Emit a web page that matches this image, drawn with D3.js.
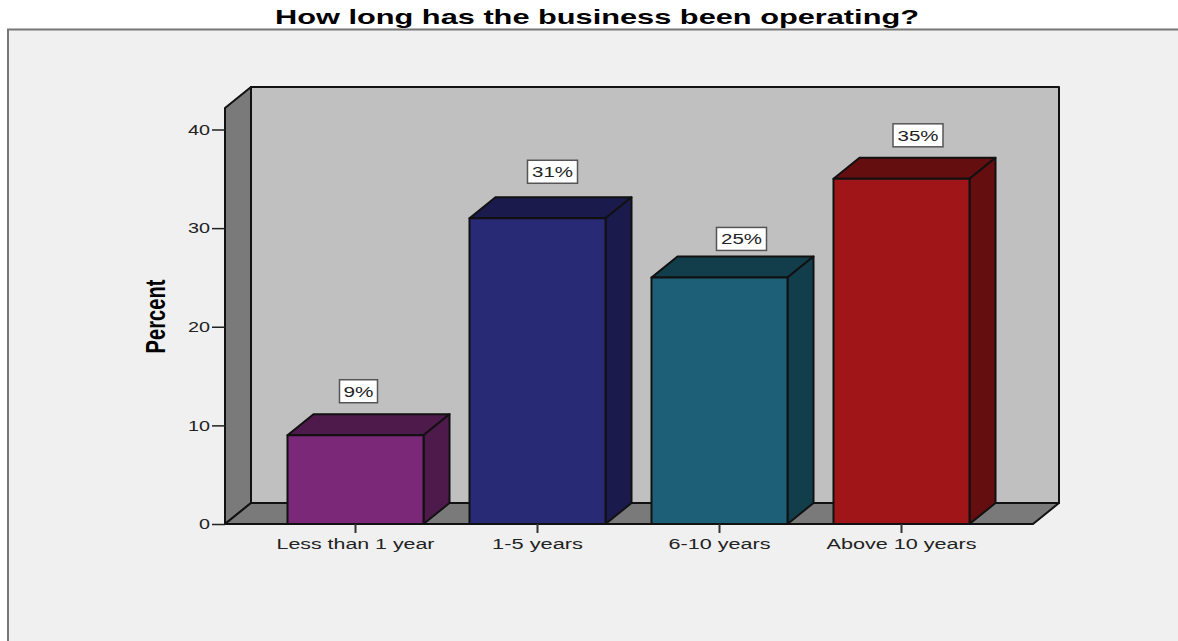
<!DOCTYPE html>
<html>
<head>
<meta charset="utf-8">
<script src="https://cdn.jsdelivr.net/npm/d3@7/dist/d3.min.js"></script>
<style>
  html, body { margin: 0; padding: 0; background: #fff; }
  svg { display: block; }
  text { font-family: "Liberation Sans", Arial, sans-serif; fill: #222; }
</style>
</head>
<body>
<svg id="chart" width="1178" height="641"></svg>
<script>
const categories = ["Less than 1 year", "1-5 years", "6-10 years", "Above 10 years"];
const percents = [9, 31, 25, 35];
const frontColors = ["#7b2878", "#292a75", "#1c5f76", "#a01518"];
const sideColors = ["#4e1a4c", "#1a1b4c", "#123e4c", "#640e10"];
const yTicks = [0, 10, 20, 30, 40];
const labelWidths = [158, 91, 102, 150];
// Hand placement of each value box relative to its bar's centre and top
const boxNudgeX = [3, 15, 22, 16.5];
const boxNudgeY = [-44, -46.5, -38.5, -43.5];

const svg = d3.select("#chart");

const x = d3.scaleBand()
  .domain(categories)
  .range([264.5, 992.5])
  .paddingInner(0.2527)
  .paddingOuter(0.12635);
const y = d3.scaleLinear().domain([0, 40]).range([524, 129.5]);

// Oblique offset that gives the frame and bars their depth
const depthX = 26, depthY = -21;
const frameLeft = 225, frameRight = 1033, frameFloor = y(0), frameTop = 108;
const poly = pts => pts.map(p => p.join(",")).join(" ");

// Chart area panel, running off the right and bottom edges
svg.append("rect").attr("x", 8).attr("y", 29.5).attr("width", 1180).attr("height", 620)
  .attr("fill", "#f0f0f0").attr("stroke", "#777").attr("stroke-width", 2);

svg.append("text").attr("x", 597).attr("y", 24)
  .attr("text-anchor", "middle").attr("font-size", 21).attr("font-weight", "bold")
  .attr("textLength", 644).attr("lengthAdjust", "spacingAndGlyphs")
  .style("fill", "#000")
  .text("How long has the business been operating?");

// Three-dimensional frame: back wall, side wall, floor
const frame = svg.append("g").attr("stroke", "#111").attr("stroke-width", 2).attr("stroke-linejoin", "round");
frame.append("polygon")
  .attr("points", poly([[frameLeft + depthX, frameTop + depthY], [frameRight + depthX, frameTop + depthY], [frameRight + depthX, frameFloor + depthY], [frameLeft + depthX, frameFloor + depthY]]))
  .attr("fill", "#c0c0c0");
frame.append("polygon")
  .attr("points", poly([[frameLeft, frameTop], [frameLeft + depthX, frameTop + depthY], [frameLeft + depthX, frameFloor + depthY], [frameLeft, frameFloor]]))
  .attr("fill", "#7a7a7a");
frame.append("polygon")
  .attr("points", poly([[frameLeft, frameFloor], [frameLeft + depthX, frameFloor + depthY], [frameRight + depthX, frameFloor + depthY], [frameRight, frameFloor]]))
  .attr("fill", "#7a7a7a");

// Bars, each with a front, top and right face
const bars = svg.append("g").selectAll("g").data(categories).join("g")
  .attr("stroke", "#111").attr("stroke-width", 2).attr("stroke-linejoin", "round");
bars.each(function (c, i) {
  const g = d3.select(this);
  const x0 = x(c), x1 = x0 + x.bandwidth(), yt = y(percents[i]);
  g.append("polygon")
    .attr("points", poly([[x0, yt], [x0 + depthX, yt + depthY], [x1 + depthX, yt + depthY], [x1, yt]]))
    .attr("fill", sideColors[i]);
  g.append("polygon")
    .attr("points", poly([[x1, yt], [x1 + depthX, yt + depthY], [x1 + depthX, frameFloor + depthY], [x1, frameFloor]]))
    .attr("fill", sideColors[i]);
  g.append("rect")
    .attr("x", x0).attr("y", yt).attr("width", x.bandwidth()).attr("height", frameFloor - yt)
    .attr("fill", frontColors[i]);
});

// Value labels in small white boxes above the bars
const valueLabels = svg.append("g").selectAll("g").data(categories).join("g")
  .attr("transform", (c, i) => `translate(${x(c) + x.bandwidth() / 2 + boxNudgeX[i]},${y(percents[i]) + boxNudgeY[i]})`);
valueLabels.append("rect")
  .attr("x", (c, i) => percents[i] < 10 ? -19 : -25).attr("y", -11.5)
  .attr("width", (c, i) => percents[i] < 10 ? 38 : 50).attr("height", 23)
  .attr("fill", "#fff").attr("stroke", "#555").attr("stroke-width", 1.5);
valueLabels.append("text")
  .attr("text-anchor", "middle").attr("y", 5.5).attr("font-size", 15)
  .attr("textLength", (c, i) => percents[i] < 10 ? 30 : 41).attr("lengthAdjust", "spacingAndGlyphs")
  .text((c, i) => percents[i] + "%");

// Axes
const yAxis = svg.append("g").attr("transform", `translate(${frameLeft},0)`)
  .call(d3.axisLeft(y).tickValues(yTicks).tickSize(13).tickPadding(2).tickFormat(d3.format("d")));
yAxis.select(".domain").remove();
yAxis.selectAll("line").attr("stroke", "#222").attr("stroke-width", 1.5);
yAxis.selectAll("text").attr("font-size", 14.5).attr("textLength", 22).attr("lengthAdjust", "spacingAndGlyphs")
  .filter(d => d === 0).attr("textLength", 11);

const xAxis = svg.append("g").attr("transform", `translate(0,${frameFloor})`)
  .call(d3.axisBottom(x).tickSize(9).tickPadding(5));
xAxis.select(".domain").remove();
xAxis.selectAll("line").attr("stroke", "#333").attr("stroke-width", 2);
xAxis.selectAll("text").attr("font-size", 15.5)
  .attr("textLength", (c, i) => labelWidths[i]).attr("lengthAdjust", "spacingAndGlyphs");

svg.append("text")
  .attr("transform", "translate(165,316.5) rotate(-90)")
  .attr("text-anchor", "middle").attr("font-size", 27).attr("font-weight", "bold")
  .attr("textLength", 74).attr("lengthAdjust", "spacingAndGlyphs")
  .style("fill", "#000")
  .text("Percent");
</script>
</body>
</html>
